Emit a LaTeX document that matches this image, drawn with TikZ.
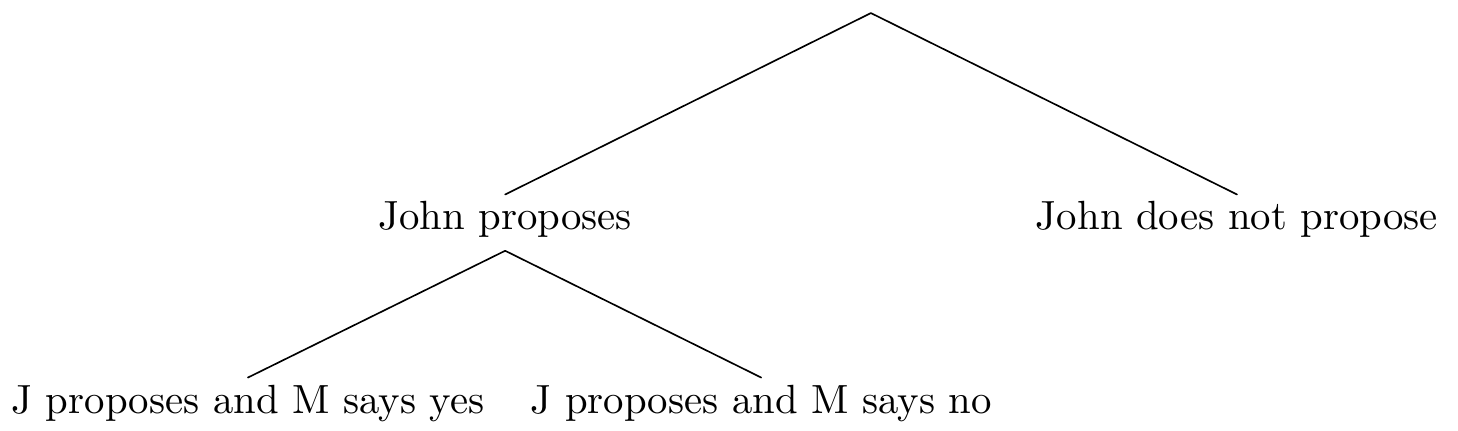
\documentclass[tikz,border=0pt]{standalone}
\begin{document}
\begin{tikzpicture}[line join=round,line cap=round,x=1pt,y=1pt,
	leaf/.style={inner sep=1.5pt,text height=7pt,text depth=3.4pt,anchor=base}]
	
	\def\top{102.5}
	\def\mid{49.3}
	\def\low{4.4}
	\useasboundingbox (0,0) rectangle (357.6,105.7);
	\coordinate (root) at (213.6,\top);
	\node[leaf] (prop) at (123.9,\mid) {John proposes};
	\node[leaf] (noprop) at (303.4,\mid) {John does not propose};
	\node[leaf] (yes) at (60.8,\low) {J proposes and M says yes};
	\node[leaf] (no) at (186.7,\low) {J proposes and M says no};
	\draw (root)--(prop.north) (root)--(noprop.north); % first move
	\draw (prop.south)--(yes.north) (prop.south)--(no.north); % second move
\end{tikzpicture}
\end{document}
